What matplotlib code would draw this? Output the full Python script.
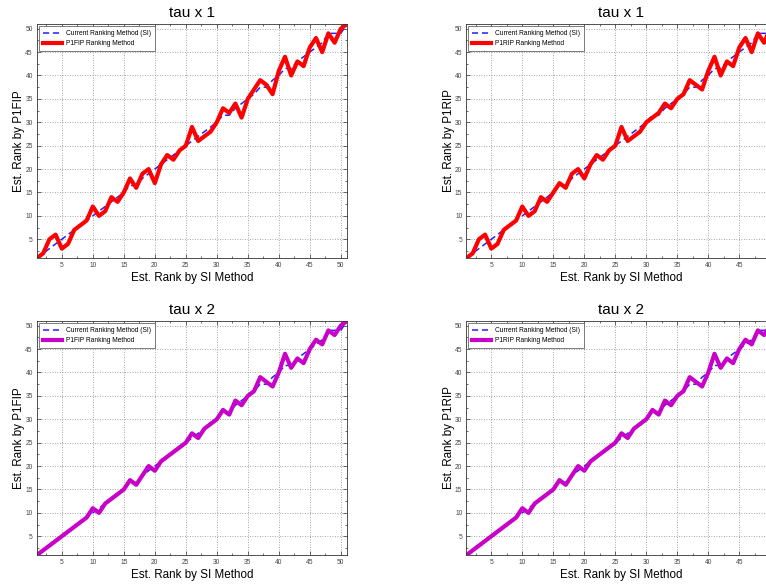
# -*- coding: utf-8 -*-
import matplotlib
matplotlib.use("Agg")
from matplotlib import pyplot as plt
from matplotlib.ticker import MultipleLocator


est_rank = list(range(1, 52))

si_rank = [1, 2, 3, 4, 5, 6, 7, 8, 9, 10, 11, 12, 13, 14, 15, 16.5, 16.5,
           18, 19, 20, 21, 22, 23, 24, 25, 26, 27, 28, 29, 30, 31.5, 31.5,
           33, 34, 35, 36, 37.5, 37.5, 39, 40, 41.5, 41.5, 43, 44, 45, 46,
           47, 49, 49, 49, 51]

p1fip_tau1 = [1, 2, 5, 6, 3, 4, 7, 8, 9, 12, 10, 11, 14, 13, 15, 18, 16,
              19, 20, 17, 21, 23, 22, 24, 25, 29, 26, 27, 28, 30, 33, 32,
              34, 31, 35, 37, 39, 38, 36, 41, 44, 40, 43, 42, 46, 48, 45,
              49, 47, 50, 51]

p1rip_tau1 = [1, 2, 5, 6, 3, 4, 7, 8, 9, 12, 10, 11, 14, 13, 15, 17, 16,
              19, 20, 18, 21, 23, 22, 24, 25, 29, 26, 27, 28, 30, 31, 32,
              34, 33, 35, 36, 39, 38, 37, 41, 44, 40, 43, 42, 46, 48, 45,
              49, 47, 50, 51]

p1fip_tau2 = [1, 2, 3, 4, 5, 6, 7, 8, 9, 11, 10, 12, 13, 14, 15, 17, 16,
              18, 20, 19, 21, 22, 23, 24, 25, 27, 26, 28, 29, 30, 32, 31,
              34, 33, 35, 36, 39, 38, 37, 40, 44, 41, 43, 42, 45, 47, 46,
              49, 48, 50, 51]

p1rip_tau2 = [1, 2, 3, 4, 5, 6, 7, 8, 9, 11, 10, 12, 13, 14, 15, 17, 16,
              18, 20, 19, 21, 22, 23, 24, 25, 27, 26, 28, 29, 30, 32, 31,
              34, 33, 35, 36, 39, 38, 37, 40, 44, 41, 43, 42, 45, 47, 46,
              49, 48, 50, 51]

FONT = "Liberation Sans"
W, H = 766, 585


def main():
    plt.rcParams["font.family"] = [FONT, "DejaVu Sans"]
    fig = plt.figure(figsize=(W / 100, H / 100), dpi=100)
    fig.patch.set_facecolor("white")

    panels = [
        # (left px, top px, title, ylabel, label, values, color)
        (37, 24, "tau x 1", "Est. Rank by P1FIP", "P1FIP Ranking Method", p1fip_tau1, "#ff0000"),
        (466.5, 24, "tau x 1", "Est. Rank by P1RIP", "P1RIP Ranking Method", p1rip_tau1, "#ff0000"),
        (37, 321, "tau x 2", "Est. Rank by P1FIP", "P1FIP Ranking Method", p1fip_tau2, "#c800c8"),
        (466.5, 321, "tau x 2", "Est. Rank by P1RIP", "P1RIP Ranking Method", p1rip_tau2, "#c800c8"),
    ]
    for left, top, title, ylabel, label, ys, color in panels:
        ax = fig.add_axes(px_rect(left, top, 310, 234))
        ax.plot(est_rank, si_rank, color="#2020ff", linewidth=1.1,
                linestyle=(0, (4, 2.5)), label="Current Ranking Method (SI)")
        ax.plot(est_rank, ys, color=color, linewidth=3.0,
                solid_joinstyle="round", label=label)
        setup_axis(ax, title, ylabel)

    fig.savefig("out.png", dpi=100)


def px_rect(left, top, width, height):
    return [left / W, 1 - (top + height) / H, width / W, height / H]


def setup_axis(ax, title, ylabel):
    ax.set_xlim(1, 51)
    ax.set_ylim(1, 51)
    ax.xaxis.set_major_locator(MultipleLocator(5))
    ax.yaxis.set_major_locator(MultipleLocator(5))
    ax.xaxis.set_minor_locator(MultipleLocator(2.5))
    ax.yaxis.set_minor_locator(MultipleLocator(2.5))
    ax.tick_params(which="both", direction="in", top=True, right=True,
                   labelsize=4.8, labelcolor="#444444", color="#333333",
                   width=0.5, pad=3)
    ax.tick_params(which="major", length=3)
    ax.tick_params(which="minor", length=1.5)
    ax.grid(True, which="major", linestyle=(0, (1, 2)), color="#888888",
            linewidth=0.6)
    for s in ax.spines.values():
        s.set_linewidth(0.6)
        s.set_color("#333333")
    ax.set_title(title, fontsize=11, pad=5)
    ax.set_xlabel("Est. Rank by SI Method", fontsize=8.4, labelpad=2)
    ax.set_ylabel(ylabel, fontsize=8.4, labelpad=0)
    leg = ax.legend(loc="upper left", fontsize=4.8, handlelength=2.8,
                    borderaxespad=0.3, fancybox=False, framealpha=1,
                    borderpad=0.6, labelspacing=0.5, handletextpad=0.6)
    leg.get_frame().set_edgecolor("#666666")
    leg.get_frame().set_linewidth(0.6)


if __name__ == '__main__':
    main()
